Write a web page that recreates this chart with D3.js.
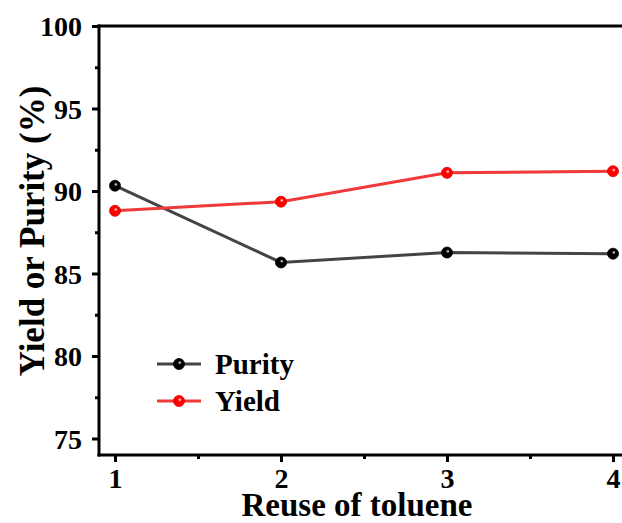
<!DOCTYPE html>
<html>
<head>
<meta charset="utf-8">
<script src="https://cdn.jsdelivr.net/npm/d3@7"></script>
<style>
  html, body { margin: 0; padding: 0; background: #fff; }
  svg { display: block; }
  text { font-family: "Liberation Serif", "Times New Roman", serif; font-weight: bold; fill: #000; }
</style>
</head>
<body>
<div id="chart"></div>
<script>
const reuse = [1, 2, 3, 4];
const purity = [90.32, 85.67, 86.27, 86.2];
const yieldVals = [88.8, 89.35, 91.1, 91.2];
const yTicks = [75, 80, 85, 90, 95, 100];
const yMinor = [77.5, 82.5, 87.5, 92.5, 97.5];
const xTicks = [1, 2, 3, 4];
const xMinor = [1.5, 2.5, 3.5];
const seriesNames = ["Purity", "Yield"];

const W = 622, H = 523;
const svg = d3.select("#chart").append("svg").attr("width", W).attr("height", H);

const x = d3.scaleLinear().domain([1, 4]).range([115, 613]);
const y = d3.scaleLinear().domain([74, 100]).range([455, 26]);

const defs = svg.append("defs");
function grad(id, base) {
  const g = defs.append("radialGradient").attr("id", id)
    .attr("cx", "0.5").attr("cy", "0.5").attr("r", "0.5")
    .attr("fx", "0.6").attr("fy", "0.35");
  g.append("stop").attr("offset", "0").attr("stop-color", "#fff");
  g.append("stop").attr("offset", "0.35").attr("stop-color", base);
  g.append("stop").attr("offset", "1").attr("stop-color", base);
}
grad("gBlack", "#000");
grad("gRed", "#ff0000");

// Axes
const yAxis = svg.append("g").attr("transform", "translate(99,0)")
  .call(d3.axisLeft(y).tickValues(yTicks).tickSize(7).tickPadding(10).tickFormat(d3.format("d")));
yAxis.select(".domain").remove();
yAxis.selectAll(".tick line").attr("stroke", "#000").attr("stroke-width", 3);
yAxis.selectAll(".tick text").style("font-size", "28px").attr("dy", "0.34em");

const yAxisMinor = svg.append("g").attr("transform", "translate(99,0)")
  .call(d3.axisLeft(y).tickValues(yMinor).tickSize(4).tickFormat(""));
yAxisMinor.select(".domain").remove();
yAxisMinor.selectAll(".tick line").attr("stroke", "#000").attr("stroke-width", 3);

const xAxis = svg.append("g").attr("transform", "translate(0,455)")
  .call(d3.axisBottom(x).tickValues(xTicks).tickSize(7).tickPadding(6).tickFormat(d3.format("d")));
xAxis.select(".domain").remove();
xAxis.selectAll(".tick line").attr("stroke", "#000").attr("stroke-width", 3);
xAxis.selectAll(".tick text").style("font-size", "28px");

const xAxisMinor = svg.append("g").attr("transform", "translate(0,455)")
  .call(d3.axisBottom(x).tickValues(xMinor).tickSize(4).tickFormat(""));
xAxisMinor.select(".domain").remove();
xAxisMinor.selectAll(".tick line").attr("stroke", "#000").attr("stroke-width", 3);

// Frame lines: left, bottom, top
svg.append("line").attr("x1", 99).attr("x2", 99).attr("y1", y(100) - 1.5).attr("y2", y(74) + 1.5)
  .attr("stroke", "#000").attr("stroke-width", 3);
svg.append("line").attr("x1", 97.5).attr("x2", W + 5).attr("y1", y(74)).attr("y2", y(74))
  .attr("stroke", "#000").attr("stroke-width", 3);
svg.append("line").attr("x1", 97.5).attr("x2", W + 5).attr("y1", y(100)).attr("y2", y(100))
  .attr("stroke", "#000").attr("stroke-width", 3);

// Series
const series = [
  { name: seriesNames[0], vals: purity, line: "#444444", fill: "url(#gBlack)", stroke: "#000" },
  { name: seriesNames[1], vals: yieldVals, line: "#f03a3a", fill: "url(#gRed)", stroke: "#e00000" }
];
const lineGen = d3.line().x((d, i) => x(reuse[i])).y(d => y(d));
series.forEach(s => {
  svg.append("path").datum(s.vals).attr("d", lineGen)
    .attr("fill", "none").attr("stroke", s.line).attr("stroke-width", 3);
  svg.selectAll(null).data(s.vals).enter().append("circle")
    .attr("cx", (d, i) => x(reuse[i])).attr("cy", d => y(d)).attr("r", 5.5)
    .attr("fill", s.fill).attr("stroke", s.stroke).attr("stroke-width", 0.8);
});

// Legend
const legY = [364, 401];
series.forEach((s, i) => {
  const g = svg.append("g");
  g.append("line").attr("x1", 157).attr("x2", 201).attr("y1", legY[i]).attr("y2", legY[i])
    .attr("stroke", s.line).attr("stroke-width", 3);
  g.append("circle").attr("cx", 179).attr("cy", legY[i]).attr("r", 5.5)
    .attr("fill", s.fill).attr("stroke", s.stroke).attr("stroke-width", 0.8);
  g.append("text").attr("x", 215).attr("y", legY[i]).attr("dy", "0.35em")
    .style("font-size", "29px").text(s.name);
});

// Axis titles
svg.append("text").attr("x", 357).attr("y", 516).attr("text-anchor", "middle")
  .style("font-size", "33px").text("Reuse of toluene");
svg.append("text").attr("transform", "translate(44,231) rotate(-90)").attr("text-anchor", "middle")
  .style("font-size", "35px").text("Yield or Purity (%)");
</script>
</body>
</html>
